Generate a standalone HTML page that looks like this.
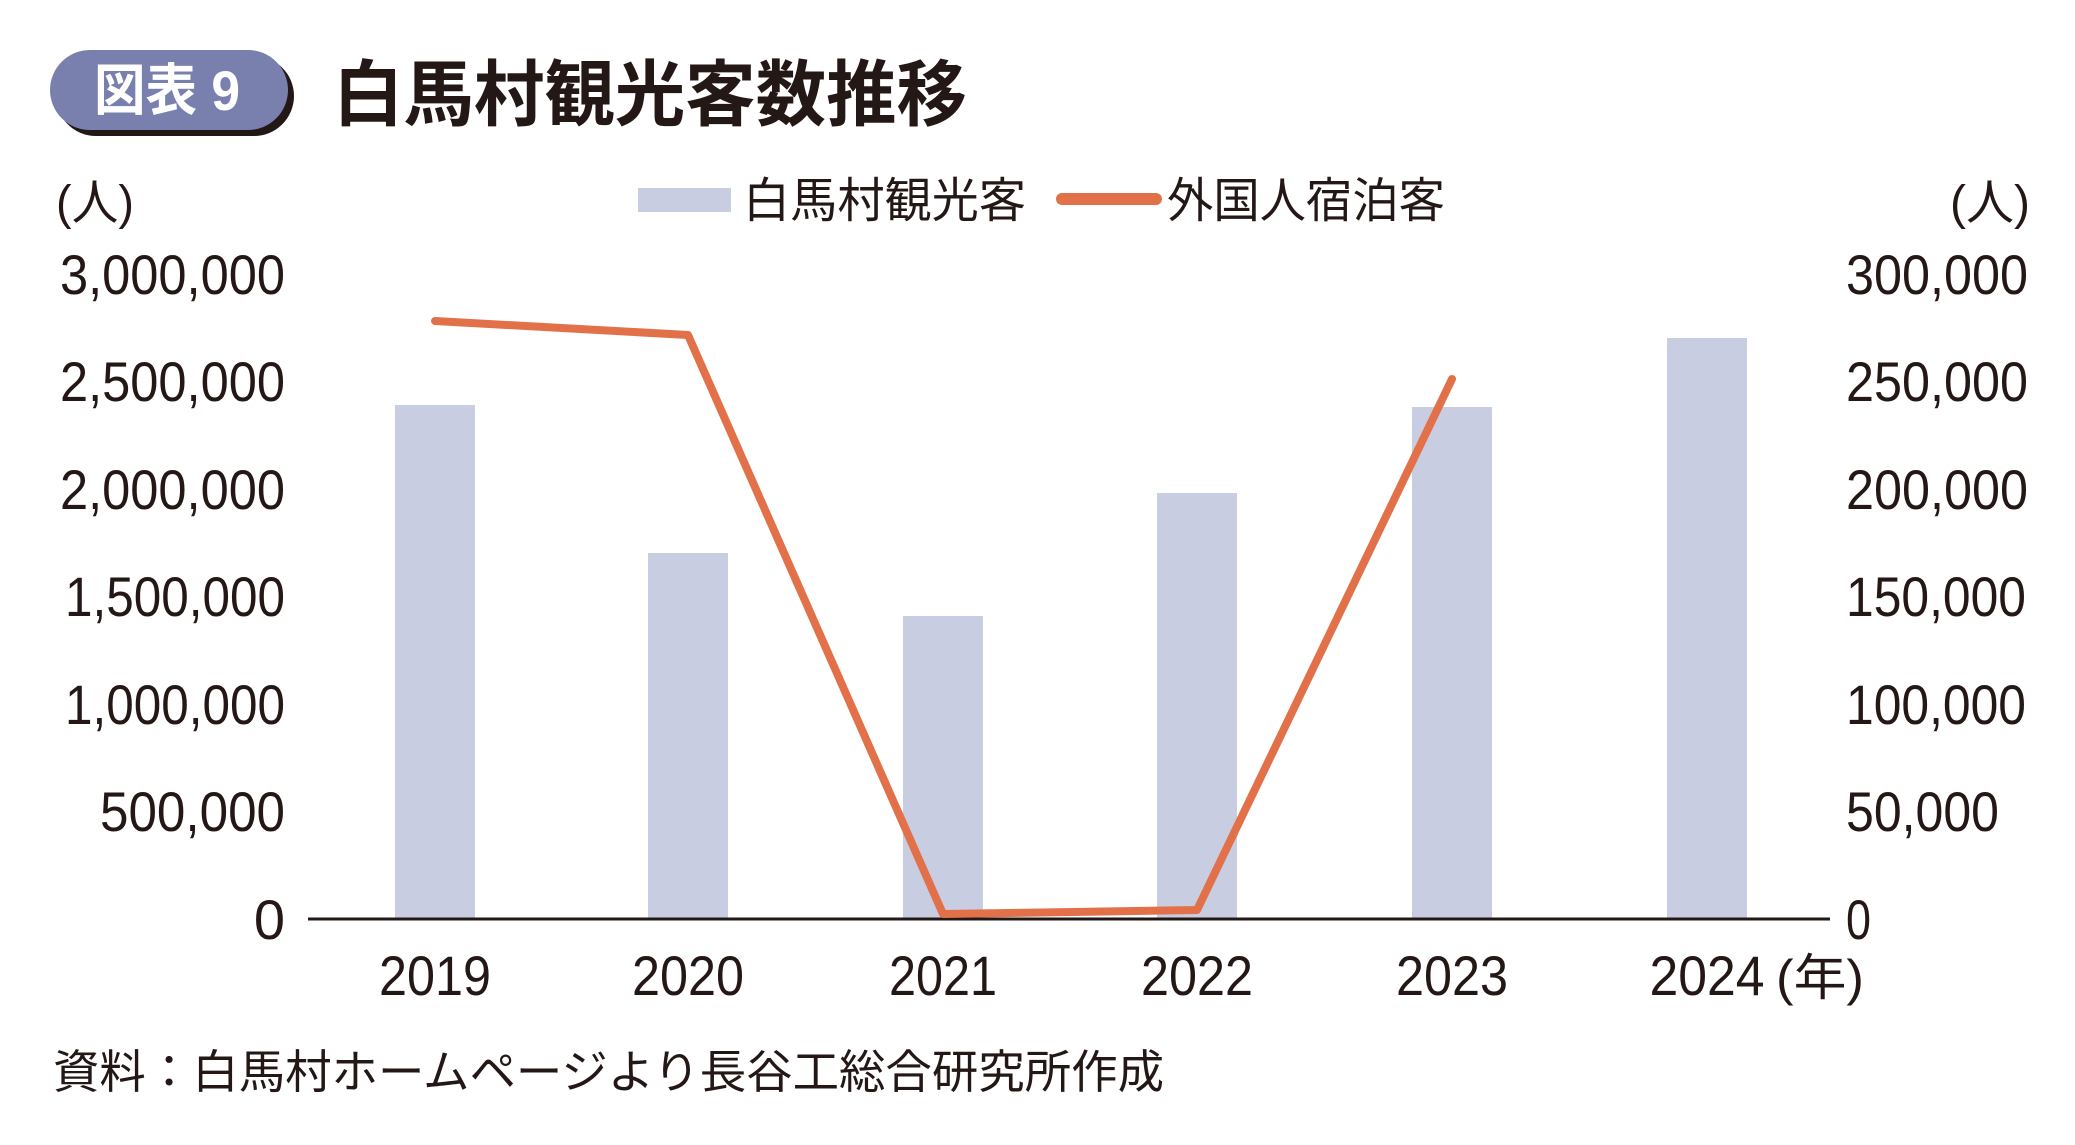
<!DOCTYPE html>
<html><head><meta charset="utf-8"><style>
html,body{margin:0;padding:0;background:#fff;}
svg{display:block;}
text{font-family:"Liberation Sans","Noto Sans CJK JP",sans-serif;fill:#231815;}
</style></head><body>
<svg width="2075" height="1145" viewBox="0 0 2075 1145" xmlns="http://www.w3.org/2000/svg">
<rect x="56" y="56" width="238" height="80" rx="40" fill="#231815"/>
<rect x="50" y="50" width="238" height="80" rx="40" fill="#7a80ae"/>
<text x="94" y="110" font-size="56" font-weight="bold" fill="#fff" style="fill:#fff" textLength="146" lengthAdjust="spacingAndGlyphs">図表 9</text>
<text x="333" y="120" font-size="72" font-weight="bold" textLength="634" lengthAdjust="spacingAndGlyphs">白馬村観光客数推移</text>
<rect x="638" y="188" width="93" height="24" fill="#c9cde1"/>
<text x="743" y="217" font-size="48" textLength="283" lengthAdjust="spacingAndGlyphs">白馬村観光客</text>
<line x1="1062" y1="199" x2="1156" y2="199" stroke="#e2714a" stroke-width="12" stroke-linecap="round"/>
<text x="1167" y="217" font-size="48" textLength="278" lengthAdjust="spacingAndGlyphs">外国人宿泊客</text>
<text x="56" y="219" font-size="48" textLength="78" lengthAdjust="spacingAndGlyphs">(人)</text>
<text x="1950" y="219" font-size="48" textLength="80" lengthAdjust="spacingAndGlyphs">(人)</text>
<g fill="#c9cde1">
<rect x="395" y="405" width="80" height="514"/>
<rect x="648" y="553" width="80" height="366"/>
<rect x="903" y="616" width="80" height="303"/>
<rect x="1157" y="493" width="80" height="426"/>
<rect x="1412" y="407" width="80" height="512"/>
<rect x="1667" y="338" width="80" height="581"/>
</g>
<line x1="308" y1="919" x2="1830" y2="919" stroke="#231815" stroke-width="3"/>
<polyline points="435,321 688,335 943,914 1197,910 1452,379" fill="none" stroke="#e2714a" stroke-width="8" stroke-linejoin="round" stroke-linecap="round"/>
<g font-size="56" text-anchor="end">
<text x="285" y="294" textLength="225" lengthAdjust="spacingAndGlyphs">3,000,000</text>
<text x="285" y="401" textLength="225" lengthAdjust="spacingAndGlyphs">2,500,000</text>
<text x="285" y="509" textLength="225" lengthAdjust="spacingAndGlyphs">2,000,000</text>
<text x="285" y="616" textLength="220" lengthAdjust="spacingAndGlyphs">1,500,000</text>
<text x="285" y="724" textLength="220" lengthAdjust="spacingAndGlyphs">1,000,000</text>
<text x="285" y="831" textLength="185" lengthAdjust="spacingAndGlyphs">500,000</text>
<text x="285" y="939">0</text>
</g>
<g font-size="56" text-anchor="start">
<text x="1846" y="294" textLength="182" lengthAdjust="spacingAndGlyphs">300,000</text>
<text x="1846" y="401" textLength="182" lengthAdjust="spacingAndGlyphs">250,000</text>
<text x="1846" y="509" textLength="182" lengthAdjust="spacingAndGlyphs">200,000</text>
<text x="1846" y="616" textLength="180" lengthAdjust="spacingAndGlyphs">150,000</text>
<text x="1846" y="724" textLength="180" lengthAdjust="spacingAndGlyphs">100,000</text>
<text x="1846" y="831" textLength="153" lengthAdjust="spacingAndGlyphs">50,000</text>
<text x="1846" y="939" textLength="25" lengthAdjust="spacingAndGlyphs">0</text>
</g>
<g font-size="56" text-anchor="middle">
<text x="435" y="995" textLength="112" lengthAdjust="spacingAndGlyphs">2019</text>
<text x="688" y="995" textLength="112" lengthAdjust="spacingAndGlyphs">2020</text>
<text x="943" y="995" textLength="108" lengthAdjust="spacingAndGlyphs">2021</text>
<text x="1197" y="995" textLength="112" lengthAdjust="spacingAndGlyphs">2022</text>
<text x="1452" y="995" textLength="112" lengthAdjust="spacingAndGlyphs">2023</text>
<text x="1707" y="995" textLength="115" lengthAdjust="spacingAndGlyphs">2024</text>
</g>
<text x="1776" y="995" font-size="50" textLength="88" lengthAdjust="spacingAndGlyphs">(年)</text>
<text x="53" y="1088" font-size="46" textLength="1111" lengthAdjust="spacingAndGlyphs">資料：白馬村ホームページより長谷工総合研究所作成</text>
</svg>
</body></html>
